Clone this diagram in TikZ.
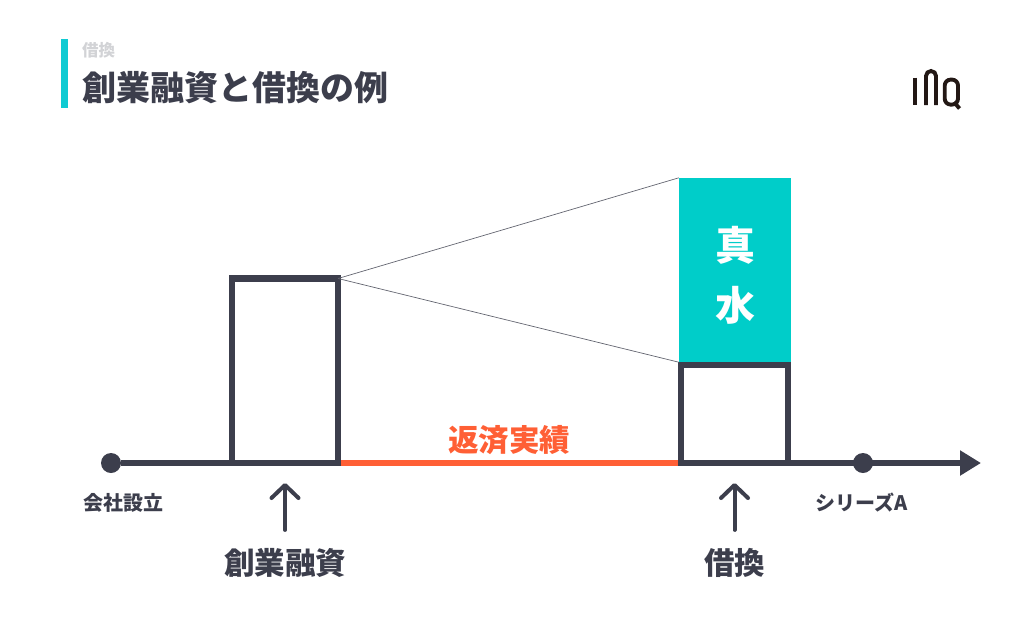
\documentclass[tikz,border=0pt]{standalone}
\usepackage{fontspec}
\setmainfont{Noto Sans CJK JP}
\usetikzlibrary{arrows.meta}
\definecolor{inkdark}{HTML}{3C3E4C}
\definecolor{tealfill}{HTML}{00CDC9}
\definecolor{barteal}{HTML}{0FCBD3}
\definecolor{repayred}{HTML}{FF5F35}
\definecolor{subgray}{HTML}{D2D3D6}
\definecolor{logoink}{HTML}{231815}

\begin{document}
\begin{tikzpicture}[
	x=1pt,
	y=-1pt,
	thin line/.style={draw=inkdark!80,line width=.7pt},
	box node/.style={rectangle,draw=inkdark,line width=6.2pt,inner sep=0pt,outer sep=0pt},
	axis dot/.style={circle,fill=inkdark,minimum size=20pt,inner sep=0pt},
	small label/.style={text=inkdark,font=\fontsize{20}{22}\selectfont\bfseries},
	big label/.style={text=inkdark,font=\fontsize{30.5}{34}\selectfont\bfseries},
	up arrow/.style={-{Straight Barb[length=13pt,width=27pt,line width=4pt,round]},draw=inkdark,line width=4pt,line cap=round},
	axis line/.style={draw=inkdark,line width=6.2pt},
	logo line/.style={draw=logoink,line width=3.9pt}
]
\useasboundingbox (0,0) rectangle (1024,641);

% heading
\node[fill=barteal,minimum width=7pt,minimum height=69pt,inner sep=0pt] (bar) at (64.5,73.5) {};
\node[anchor=west,inner sep=0pt,text=subgray,font=\fontsize{16.5}{18}\selectfont\bfseries] (subtitle) at (82,50) {借換};
\node[anchor=west,inner sep=0pt,text=inkdark,font=\fontsize{34}{38}\selectfont\bfseries] (title) at (82,88) {創業融資と借換の例};

% logo
\draw[logo line] (915,77.7) -- (915,105);
\draw[logo line] (926,105) -- (926,76) arc[start angle=180,end angle=360,radius=5] -- (936,105);
\draw[logo line,rounded corners=6pt] (944.7,79.6) rectangle (958,104.6);
\draw[logo line] (954,102) -- (959.5,108.5);

% boxes
\node[box node,minimum width=106pt,minimum height=184.5pt] (seed box) at (285,370.75) {};
\node[box node,minimum width=107pt,minimum height=98pt] (swap box) at (734.5,414) {};
\node[fill=tealfill,minimum width=112pt,minimum height=184pt,inner sep=0pt] (water) at (735,270) {};
\node[text=white,align=center,inner sep=0pt,font=\fontsize{40}{60}\selectfont\bfseries] (water label) at (735,275.5) {真\\水};

% axis
\node[axis dot] (start) at (111,463) {};
\node[axis dot] (seriesa) at (863,463) {};
\coordinate (end) at (981,463);
\draw[axis line] (start) -- (seed box.south west);
\draw[axis line,-{Triangle[length=21pt,width=24pt]}] (swap box.south east) -- (end);
\draw[draw=repayred,line width=6.2pt,shorten <=3pt,shorten >=3pt] (seed box.south east) -- (swap box.south west);

% labels
\node[small label] (start label) at (123,503) {会社設立};
\node[small label] (seriesa label) at (862,503) {シリーズA};
\node[text=repayred,font=\fontsize{30.5}{32}\selectfont\bfseries] (repay label) at (509,440) {返済実績};
\node[big label] (seed label) at (285,563) {創業融資};
\node[big label] (swap label) at (734.5,563) {借換};

% connectors
\draw[thin line] (seed box.north east) -- (water.north west);
\draw[thin line] (seed box.north east) -- (water.south west);
\draw[up arrow,shorten <=15pt,shorten >=20pt] (seed label.north) -- (seed box.south);
\draw[up arrow,shorten <=15pt,shorten >=20pt] (swap label.north) -- (swap box.south);
\end{tikzpicture}
\end{document}
